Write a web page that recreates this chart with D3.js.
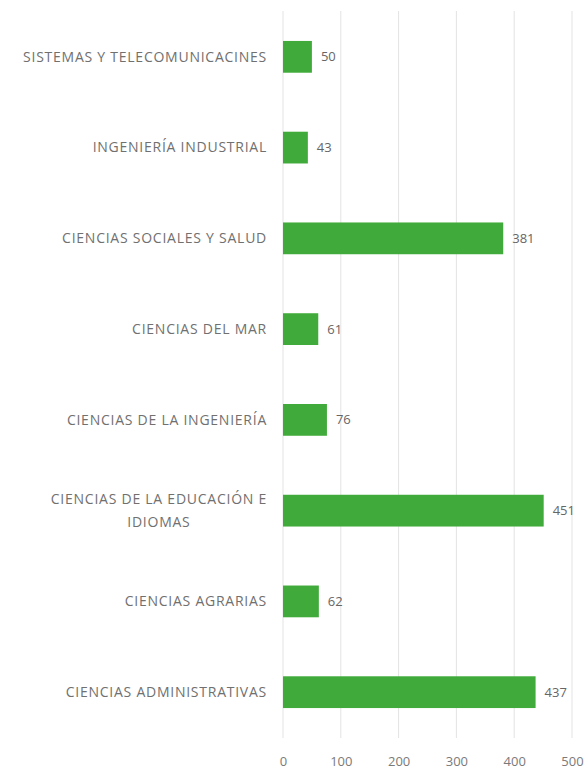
<!DOCTYPE html>
<meta charset="utf-8">
<script src="https://d3js.org/d3.v7.min.js"></script>
<style>
body { margin: 0; background: #fff; }
text { font-family: "Open Sans", "Liberation Sans", sans-serif; }
</style>
<div id="chart"></div>
<script>
// data
var categories = [
  "SISTEMAS Y TELECOMUNICACINES",
  "INGENIERÍA INDUSTRIAL",
  "CIENCIAS SOCIALES Y SALUD",
  "CIENCIAS DEL MAR",
  "CIENCIAS DE LA INGENIERÍA",
  "CIENCIAS DE LA EDUCACIÓN E|IDIOMAS",
  "CIENCIAS AGRARIAS",
  "CIENCIAS ADMINISTRATIVAS"
];
var values = [50, 43, 381, 61, 76, 451, 62, 437];
var tickValues = [0, 100, 200, 300, 400, 500];

var width = 584, height = 772;
var margin = {top: 11, right: 12, bottom: 34, left: 283};

var svg = d3.select("#chart").append("svg")
  .attr("width", width)
  .attr("height", height);

var x = d3.scaleLinear()
  .domain([0, 500])
  .range([margin.left, width - margin.right]);

var y = d3.scaleBand()
  .domain(categories)
  .range([margin.top, height - margin.bottom])
  .paddingInner(0.65)
  .paddingOuter(0.33);

// gridlines
svg.append("g")
  .selectAll("line")
  .data(tickValues)
  .join("line")
    .attr("x1", function(d) { return x(d); })
    .attr("x2", function(d) { return x(d); })
    .attr("y1", margin.top)
    .attr("y2", height - margin.bottom)
    .attr("stroke", "#e3e3e3")
    .attr("stroke-width", 1);

// x axis labels
var xAxis = svg.append("g")
  .attr("transform", "translate(0," + (height - 6) + ")")
  .call(d3.axisBottom(x).tickValues(tickValues).tickSize(0).tickPadding(0));
xAxis.select(".domain").remove();
xAxis.selectAll("text")
  .attr("fill", "#7a7a7a")
  .style("font-size", "13px")
  .attr("dy", "0");

// bars
svg.append("g")
  .selectAll("rect")
  .data(values)
  .join("rect")
    .attr("x", x(0))
    .attr("y", function(d, i) { return y(categories[i]); })
    .attr("width", function(d) { return x(d) - x(0); })
    .attr("height", y.bandwidth())
    .attr("fill", "#40ab3a");

// value labels
svg.append("g")
  .selectAll("text")
  .data(values)
  .join("text")
    .attr("x", function(d) { return x(d) + 9; })
    .attr("y", function(d, i) { return y(categories[i]) + y.bandwidth() / 2; })
    .attr("dy", "0.35em")
    .attr("fill", "#666")
    .style("font-size", "13px")
    .text(function(d) { return d; });

// category labels (a "|" marks a line break)
var labelRight = margin.left - 16;
var labelSize = "14px", labelSpacing = "0.75px";
categories.forEach(function(c) {
  var lines = c.split("|");
  var cy = y(c) + y.bandwidth() / 2;
  var g = svg.append("g");
  var t = g.append("text")
    .attr("fill", "#707070")
    .style("font-size", labelSize)
    .style("letter-spacing", labelSpacing);
  if (lines.length == 1) {
    t.attr("x", labelRight).attr("y", cy).attr("dy", "0.35em")
      .attr("text-anchor", "end").text(c);
  } else {
    var lh = 23;
    t.attr("x", labelRight).attr("y", cy - lh / 2).attr("dy", "0.35em")
      .attr("text-anchor", "end").text(lines[0]);
    var w = t.node().getComputedTextLength();
    g.append("text")
      .attr("x", labelRight - w / 2)
      .attr("y", cy + lh / 2)
      .attr("dy", "0.35em")
      .attr("text-anchor", "middle")
      .attr("fill", "#707070")
      .style("font-size", labelSize)
      .style("letter-spacing", labelSpacing)
      .text(lines[1]);
  }
});
</script>
